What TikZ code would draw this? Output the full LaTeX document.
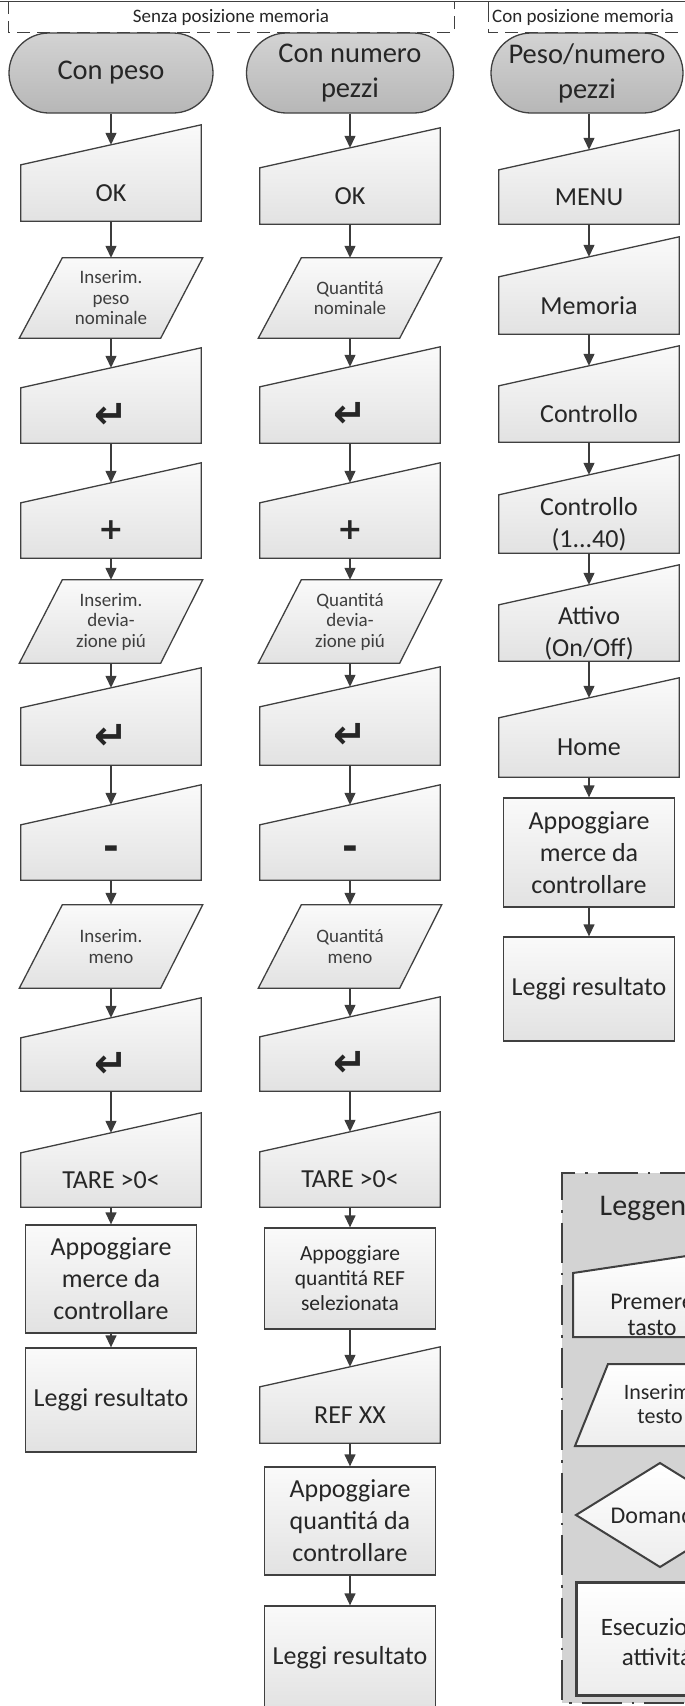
\documentclass[tikz,border=0pt]{standalone}
\usepackage{fontspec}
\setmainfont{Carlito}
\newfontfamily\keyfont{DejaVu Sans}
\usetikzlibrary{arrows.meta,backgrounds}

\definecolor{linec}{HTML}{404040}
\definecolor{arrc}{HTML}{3C3C3C}
\definecolor{txtc}{HTML}{262626}
\definecolor{txtsoft}{HTML}{3E3E3E}
\definecolor{boxtop}{HTML}{FAFAFA}
\definecolor{boxbot}{HTML}{E2E2E2}
\definecolor{termtop}{HTML}{D3D3D3}
\definecolor{termbot}{HTML}{B7B7B7}
\definecolor{legfill}{HTML}{D3D3D3}

\tikzset{
  outline/.style={draw=linec, line width=1.3pt},
  shadedbox/.style={outline, top color=boxtop, bottom color=boxbot},
  bigtxt/.style={font=\fontsize{26}{32}\selectfont, text=txtc, align=center},
  smalltxt/.style={font=\fontsize{19}{20.5}\selectfont, text=txtsoft, align=center},
  midtxt/.style={font=\fontsize{21.5}{25}\selectfont, text=txtc, align=center},
  keyin/.style={minimum width=180pt, inner sep=0pt, bigtxt},
  datain/.style={minimum width=183pt, inner sep=0pt, smalltxt},
  procbox/.style={shadedbox, minimum width=171pt, inner sep=0pt, bigtxt},
  startbox/.style={outline, top color=termtop, bottom color=termbot,
    rounded corners=40pt, minimum height=80pt, inner sep=0pt,
    font=\fontsize{28.5}{35}\selectfont, text=txtc, align=center},
  flow/.style={draw=arrc, line width=1.3pt, -{Triangle[width=11pt,length=12pt]}},
  hdrline/.style={draw=linec, line width=1pt},
  hdrdash/.style={hdrline, dash pattern=on 13pt off 7pt},
  hdrtxt/.style={font=\fontsize{19}{22}\selectfont, text=txtc},
  legline/.style={draw=linec, line width=2.5pt, dash pattern=on 40pt off 10pt on 2.5pt off 10pt},
  legshape/.style={draw=linec, line width=2pt, top color=white, bottom color=black!7},
  legtxt/.style={font=\fontsize{24}{26}\selectfont, text=txtc, align=center},
}

% key symbols
\newcommand\EnterKey{{\keyfont\bfseries\fontsize{40}{32}\selectfont ↵}}
\newcommand\PlusKey{{\keyfont\bfseries\fontsize{30}{32}\selectfont +}}
\newcommand\MinusKey{{\keyfont\bfseries\fontsize{38}{32}\selectfont -}}

% name, centre x, top y of the straight part, bottom y, text
\newcommand\KeyIn[5]{\node[keyin, minimum height={#4-#3}] (#1) at (#2,{(#3+#4)/2}) {#5};}
\newcommand\DataIn[5]{\node[datain, minimum height={#4-#3}] (#1) at (#2,{(#3+#4)/2}) {#5};}
\newcommand\Proc[6][]{\node[procbox, #1, minimum height={#5-#4}] (#2) at (#3,{(#4+#5)/2}) {#6};}

\begin{document}
\begin{tikzpicture}[x=1pt,y=-1pt]
\useasboundingbox (0,0) rectangle (685,1706);

% ---------- header ----------
\draw[hdrline] (0,1) -- (685,1);
\draw[hdrdash] (8,1) -- (8,32) -- (454,32) -- (454,1);
\draw[hdrline] (488,1) -- (488,9);
\draw[hdrdash] (488,9) -- (488,32) -- (700,32);
\node[hdrtxt] (h1) at (231,17) {Senza posizione memoria};
\node[hdrtxt] (h2) at (583,17) {Con posizione memoria};

% ---------- column 1: con peso ----------
\node[startbox, minimum width=204pt] (t1) at (111,73) {Con peso};
\KeyIn{ok1}{111}{165}{221}{OK}
\DataIn{p1a}{111}{258}{338}{Inserim.\\peso\\nominale}
\KeyIn{en1a}{111}{388}{443}{\EnterKey}
\KeyIn{plus1}{111}{503}{558}{\PlusKey}
\DataIn{p1b}{111}{580}{663}{Inserim.\\devia-\\zione piú}
\KeyIn{en1b}{111}{708}{765}{\EnterKey}
\KeyIn{minus1}{111}{825}{880}{\MinusKey}
\DataIn{p1c}{111}{905}{988}{Inserim.\\meno}
\KeyIn{en1c}{111}{1038}{1091}{\EnterKey}
\KeyIn{tare1}{111}{1153}{1207}{TARE >0<}
\Proc{app1}{111}{1225}{1333}{Appoggiare\\merce da\\controllare}
\Proc{res1}{111}{1348}{1452}{Leggi resultato}

% ---------- column 2: con numero pezzi ----------
\node[startbox, minimum width=207pt] (t2) at (350,73) {Con numero\\pezzi};
\KeyIn{ok2}{350}{168}{224}{OK}
\DataIn{p2a}{350}{258}{338}{Quantitá\\nominale}
\KeyIn{en2a}{350}{387}{443}{\EnterKey}
\KeyIn{plus2}{350}{503}{558}{\PlusKey}
\DataIn{p2b}{350}{580}{663}{Quantitá\\devia-\\zione piú}
\KeyIn{en2b}{350}{707}{765}{\EnterKey}
\KeyIn{minus2}{350}{825}{880}{\MinusKey}
\DataIn{p2c}{350}{905}{988}{Quantitá\\meno}
\KeyIn{en2c}{350}{1037}{1091}{\EnterKey}
\KeyIn{tare2}{350}{1152}{1207}{TARE >0<}
\Proc[midtxt]{app2}{350}{1228}{1329}{Appoggiare\\quantitá REF\\selezionata}
\KeyIn{ref2}{350}{1387}{1443}{REF XX}
\Proc{appq2}{350}{1467}{1575}{Appoggiare\\quantitá da\\controllare}
\Proc{res2}{350}{1606}{1710}{Leggi resultato}

% ---------- column 3: peso/numero pezzi ----------
\node[startbox, minimum width=192pt] (t3) at (587,73) {Peso/numero\\pezzi};
\KeyIn{menu3}{589}{170}{224}{MENU}
\KeyIn{mem3}{589}{277}{334}{Memoria}
\KeyIn{ctr3}{589}{386}{442}{Controllo}
\KeyIn{ctrn3}{589}{495}{553}{Controllo\\(1...40)}
\KeyIn{att3}{589}{605}{661}{Attivo\\(On/Off)}
\KeyIn{home3}{589}{718}{777}{Home}
\Proc{app3}{589}{798}{907}{Appoggiare\\merce da\\controllare}
\Proc{res3}{589}{937}{1041}{Leggi resultato}

% outlines of key-press and data-entry shapes
\begin{pgfonlayer}{background}
\foreach \n in {ok1,en1a,plus1,en1b,minus1,en1c,tare1,
                ok2,en2a,plus2,en2b,minus2,en2c,tare2,ref2,
                menu3,mem3,ctr3,ctrn3,att3,home3}
  \path[shadedbox] (\n.south west) -- (\n.south east)
        -- ([yshift=40pt]\n.north east) -- (\n.north west) -- cycle;
\foreach \n in {p1a,p1b,p1c,p2a,p2b,p2c}
  \path[shadedbox] (\n.south west) -- ([xshift=-42pt]\n.south east)
        -- (\n.north east) -- ([xshift=43pt]\n.north west) -- cycle;
\end{pgfonlayer}

% connectors into slanted key shapes
\draw[flow] (t3.south -| menu3.north) -- ([yshift=20pt]menu3.north);
\foreach \a/\b in {t1/ok1, p1a/en1a, en1a/plus1, p1b/en1b, en1b/minus1, p1c/en1c, en1c/tare1,
                   t2/ok2, p2a/en2a, en2a/plus2, p2b/en2b, en2b/minus2, p2c/en2c, en2c/tare2, app2/ref2,
                   menu3/mem3, mem3/ctr3, ctr3/ctrn3, ctrn3/att3, att3/home3}
  \draw[flow] (\a.south) -- ([yshift=20pt]\b.north);
% connectors into flat-topped shapes
\foreach \a/\b in {ok1/p1a, plus1/p1b, minus1/p1c, tare1/app1, app1/res1,
                   ok2/p2a, plus2/p2b, minus2/p2c, tare2/app2, ref2/appq2, appq2/res2,
                   home3/app3, app3/res3}
  \draw[flow] (\a.south) -- (\b.north);

% ---------- legend ----------
\fill[legfill] (562,1173) rectangle (700,1703);
\draw[legline] (700,1173) -- (562,1173) -- (562,1703) -- (700,1703);
\node[legtxt, font=\fontsize{30}{34}\selectfont] (lgtitle) at (658,1208) {Leggenda};
\path[legshape] (573,1337) -- (733,1337) -- (733,1249) -- (573,1273) -- cycle;
\node[legtxt] (lgkey) at (652,1315) {Premere\\tasto};
\path[legshape] (575,1446) -- (735,1446) -- (768,1364) -- (608,1364) -- cycle;
\node[legtxt, font=\fontsize{22}{24}\selectfont] (lgdata) at (660,1404) {Inserim.\\testo};
\path[legshape] (576,1515) -- (660,1463) -- (744,1515) -- (660,1567) -- cycle;
\node[legtxt] (lgask) at (658,1515) {Domanda};
\path[legshape, line width=3pt] (576,1582) rectangle (736,1695);
\node[legtxt, font=\fontsize{25}{30}\selectfont] (lgdo) at (657,1642) {Esecuzione\\attivitá};
\end{tikzpicture}
\end{document}
